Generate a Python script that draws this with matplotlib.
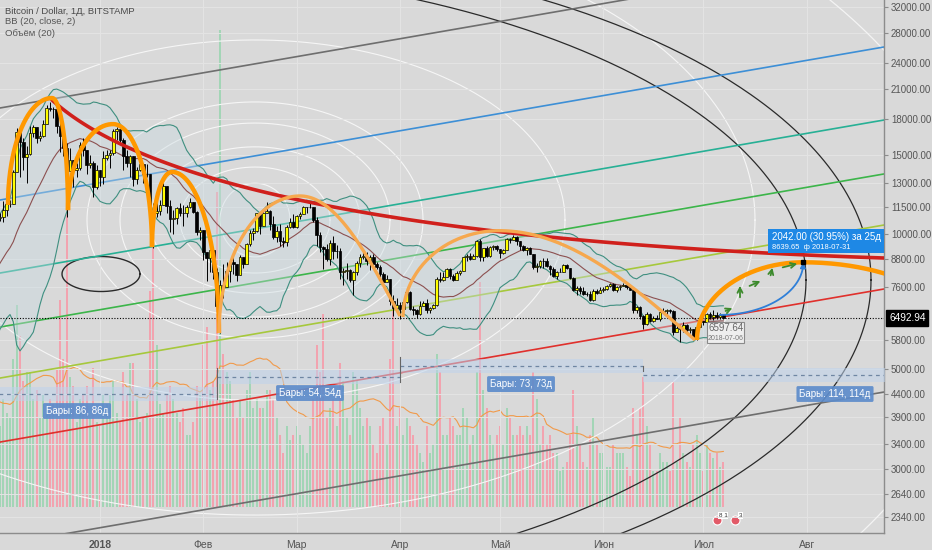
import numpy as np
import pandas as pd
import matplotlib
matplotlib.use("Agg")
import matplotlib.pyplot as plt
from matplotlib.ticker import NullLocator
from matplotlib.patches import Rectangle

plt.rcParams['font.family'] = ['Liberation Sans', 'DejaVu Sans']

BG = '#d9d9d9'
GRID = '#e4e4e4'
TXT = '#555555'

# daily candles, 2017-11-11 .. 2018-07-07 (open = previous close)
dates = pd.date_range('2017-11-11', '2018-07-07', freq='D')
first_open = 6600

closes = [
    # nov
    6350, 5900, 6550, 6600, 7300, 7850, 7700, 7800, 8050, 8250, 8100, 8250, 8050, 8250, 8750, 9300, 9750, 9900, 9850, 9950,
    # dec
    10860, 10900, 11290, 11640, 11670, 13750, 16850, 16050, 14840, 15060, 16730, 17280, 16370, 16500, 17600, 19100,
    19000, 18950, 17400, 16500, 15500, 13800, 14600, 13900, 14000, 15800, 15400, 14200, 14400, 12700, 13880,
    # jan
    13400, 14750, 15000, 15100, 16900, 17100, 16200, 14900, 14400, 14900, 13250, 13850, 14300, 13600, 13600, 11200,
    11150, 11250, 11600, 12800, 11550, 10800, 10850, 11400, 11150, 11100, 11450, 11750, 11200, 10100, 10200,
    # feb
    9100, 8850, 9200, 8200, 6900, 7700, 7600, 8250, 8650, 8550, 8100, 8900, 8550, 9500, 10050, 10150,
    11100, 10400, 11150, 11250, 10500, 9850, 10150, 9650, 9600, 10350, 10600, 10350,
    # mar
    10950, 11050, 11450, 11500, 11500, 10750, 9950, 9350, 9250, 8800, 9550, 9150, 9150, 8200, 8250, 8300,
    7900, 8200, 8600, 8900, 8900, 8700, 8900, 8550, 8450, 8150, 7800, 7950, 7100, 6850, 6950,
    # apr
    6800, 7050, 7400, 6800, 6780, 6620, 6900, 7020, 6770, 6840, 6950, 7930, 7890, 8000, 8350,
    8050, 7900, 8170, 8280, 8860, 8920, 8800, 8940, 9650, 8870, 9280, 8930, 9350, 9400, 9240,
    # may
    9070, 9220, 9750, 9700, 9850, 9650, 9370, 9200, 9320, 9020, 8430, 8480, 8700, 8680, 8480, 8340,
    8060, 8240, 8240, 8520, 8390, 7990, 7500, 7580, 7460, 7350, 7350, 7110, 7460, 7390, 7490,
    # jun
    7520, 7640, 7710, 7490, 7620, 7660, 7690, 7620, 7510, 6770, 6870, 6550, 6310, 6640, 6400,
    6490, 6460, 6700, 6740, 6760, 6720, 6050, 6160, 6150, 6250, 6090, 6140, 5890, 6200, 6390,
    # jul
    6350, 6620, 6510, 6590, 6530, 6600, 6492.94,
]

highs = [
    6800, 6450, 6700, 6750, 7350, 7950, 8000, 7900, 8100, 8300, 8400, 8300, 8300, 8350, 8800, 9600, 9750, 10000, 11400, 10700,
    10950, 11150, 11850, 11650, 11900, 13850, 17200, 17300, 16300, 15700, 17400, 17500, 17300, 16900, 17950, 19400,
    19666, 19200, 19000, 17800, 17100, 15900, 15500, 14600, 14400, 16000, 16300, 15400, 15000, 14500, 14200,
    13900, 15300, 15400, 15350, 17100, 17250, 17100, 16300, 15400, 14950, 14900, 14100, 14600, 14400, 14300, 13600,
    11700, 12000, 11900, 13000, 12800, 11900, 11300, 11500, 11700, 11600, 11600, 12000, 11750, 11250, 10350,
    10200, 9100, 9500, 9350, 8400, 7900, 8550, 8650, 8700, 9000, 8550, 8950, 8900, 9520, 10200, 10300,
    11100, 11100, 11250, 11780, 11300, 10950, 10400, 10500, 9850, 10450, 10850, 11050,
    11000, 11200, 11550, 11500, 11700, 11500, 10900, 10100, 9400, 9500, 9700, 9900, 9450, 9300, 8400, 8600,
    8350, 8250, 8700, 9000, 9100, 9100, 8950, 9000, 8650, 8500, 8200, 8100, 7950, 7300, 7200,
    7050, 7100, 7500, 7450, 6900, 6800, 7100, 7100, 7150, 6870, 6980, 8000, 8200, 8200, 8400,
    8400, 8150, 8250, 8300, 8900, 9000, 9050, 9000, 9700, 9750, 9300, 9400, 9400, 9450, 9450,
    9250, 9250, 9800, 9800, 9950, 9900, 9650, 9450, 9350, 9350, 9020, 8600, 8750, 8850, 8850, 8500,
    8450, 8250, 8400, 8550, 8550, 8400, 8000, 7650, 7650, 7600, 7400, 7450, 7550, 7550, 7600,
    7600, 7700, 7750, 7750, 7650, 7700, 7750, 7700, 7650, 7510, 6900, 6900, 6600, 6700, 6650,
    6550, 6600, 6800, 6850, 6800, 6800, 6750, 6250, 6250, 6350, 6300, 6200, 6150, 6300, 6500,
    6400, 6650, 6680, 6780, 6700, 6650, 6620,
]

lows = [
    6200, 5500, 5850, 6400, 6600, 7250, 7550, 7500, 7650, 8000, 7900, 8100, 8000, 8000, 8200, 8750, 9300, 9650, 9000, 9000,
    9400, 10700, 10600, 10950, 11450, 11650, 13700, 13400, 13900, 13000, 15000, 16400, 15900, 16100, 16400, 17600,
    18800, 18100, 16800, 15200, 14900, 10900, 13800, 12700, 13400, 13900, 14900, 13600, 14000, 12100, 12600,
    12800, 12900, 14600, 14000, 15000, 16200, 16000, 13900, 14100, 13400, 12800, 12900, 13800, 13000, 13400, 10400,
    9300, 10900, 11000, 11600, 11100, 10100, 10000, 10500, 10950, 10400, 10900, 11400, 11100, 9950, 9700,
    8750, 7850, 8200, 7950, 6600, 6000, 7200, 7600, 7800, 8150, 7850, 8100, 8400, 8550, 9400, 9700,
    10100, 10000, 10400, 11150, 10200, 9750, 9600, 9400, 9350, 9400, 10300, 10300,
    10300, 10800, 11050, 11100, 11400, 10600, 9400, 9100, 8350, 8700, 8500, 8800, 8850, 7950, 7700, 7950,
    7800, 7300, 8100, 8450, 8800, 8500, 8300, 8500, 8350, 7850, 7750, 7800, 6950, 6550, 6800,
    6450, 6800, 7000, 6750, 6600, 6500, 6600, 6900, 6650, 6650, 6800, 6900, 7800, 7850, 8000,
    7950, 7850, 7900, 8100, 8250, 8700, 8750, 8800, 8900, 8700, 8700, 8900, 8900, 9200, 9150,
    8850, 9000, 9200, 9550, 9700, 9450, 9200, 9150, 8950, 9000, 8350, 8200, 8400, 8400, 8450, 8100,
    8000, 7950, 8200, 8200, 8350, 7950, 7450, 7300, 7350, 7300, 7250, 7080, 7100, 7350, 7380,
    7400, 7500, 7600, 7450, 7400, 7500, 7650, 7550, 7500, 6650, 6650, 6450, 6150, 6250, 6350,
    6350, 6450, 6400, 6650, 6550, 6650, 5950, 6050, 5750, 6050, 6050, 6000, 5850, 5800, 6200,
    6250, 6300, 6450, 6430, 6450, 6450, 6470,
]

# volume, thousands BTC
volumes = [
    28, 35, 30, 22, 24, 22, 18, 14, 16, 17, 22, 14, 16, 13, 18, 22, 26, 30, 60, 40,
    25, 18, 24, 21, 20, 33, 45, 38, 28, 30, 30, 24, 26, 20, 25, 22, 24, 23, 31, 46, 33, 66, 29, 27, 19, 24, 25, 27, 20, 31, 19,
    18, 25, 23, 25, 28, 21, 19, 30, 25, 32, 32, 24, 19, 20, 21, 48, 58, 36, 23, 21, 25, 27, 24, 21, 19, 22, 16, 16, 19, 27, 25,
    36, 40, 26, 28, 70, 106, 34, 30, 28, 24, 20, 24, 20, 26, 30, 22, 24, 22, 22, 26, 26, 24, 20, 16, 12, 18, 15, 16,
    18, 16, 14, 12, 18, 24, 36, 30, 43, 20, 22, 24, 18, 32, 28, 20, 16, 30, 28, 22, 18, 20, 18, 14, 12, 18, 20, 14, 33, 44, 18,
    22, 16, 20, 18, 16, 14, 12, 10, 18, 12, 14, 34, 30, 16, 16, 20, 18, 16, 16, 22, 20, 14, 16, 30, 50, 26, 22, 16, 14, 16,
    18, 14, 22, 20, 16, 16, 18, 16, 18, 16, 30, 24, 14, 18, 14, 16, 12, 12, 8, 9, 10, 16, 26, 18, 14, 10, 9, 16, 20, 14, 12,
    12, 9, 9, 14, 12, 12, 12, 9, 7, 22, 16, 22, 29, 18, 14, 8, 8, 12, 10, 10, 8, 28, 10, 20, 12, 10, 9, 14, 16, 12,
    8, 14, 12, 11, 12, 9, 10,
]

assert len(closes) == len(dates), len(closes)
assert len(highs) == len(dates), len(highs)
assert len(lows) == len(dates), len(lows)
assert len(volumes) == len(dates), len(volumes)

last_price = 6492.94
price_ticks = [32000, 28000, 24000, 21000, 18000, 15000, 13000, 11500, 10000, 8800, 7600,
               5800, 5000, 4400, 3900, 3400, 3000, 2640, 2340]
month_days = [31, 62, 90, 121, 151, 182, 212, 243]
month_labels = ['2018', 'Фев', 'Мар', 'Апр', 'Май', 'Июн', 'Июл', 'Авг']

# drawings (x = days since 2017-12-01, y = price)
channel_x = [1.0, 266.2]
channel_lines = [
    ('#6e6e6e', [19060, 41770]),
    ('#3d8fd6', [11890, 26060]),
    ('#27b095', [8177, 17920]),
    ('#3cb54a', [6199, 13590]),
    ('#a6c83c', [4772, 10460]),
    ('#e0302c', [3437, 7534]),
    ('#6e6e6e', [2027, 4442]),
]
# quadratic curve: start, control, end
red_curve = [(16.6, 19860), (61.0, 9935), (266.2, 8831)]
# left base, peak, right base, colour, width, shape of right half
domes = [
    ((3.4, 11590), (16.6, 20060), (21.4, 11290), '#ff9800', 3.2, 'ellipse'),
    ((21.4, 11290), (34.9, 17550), (46.6, 9340), '#ff9800', 3.2, 'ellipse'),
    ((46.6, 9340), (52.6, 13730), (66.7, 6012), '#ff9800', 3.2, 'ellipse'),
    ((66.7, 6012), (91.0, 12140), (121.0, 6558), '#f6a84e', 2.4, 'cosine'),
    ((121.9, 6525), (150.7, 10160), (209.5, 5800), '#f6a84e', 2.4, 'cosine'),
    ((210.1, 5800), (242.0, 8639.65), (289.0, 5800), '#ff9800', 3.2, 'ellipse'),
]
# white circles: centre, semi-axes in days and in decades of price
ring_center = (77.5, 10730)
ring_days = [10.5, 22.5, 31.5, 40.5, 50.4, 93.0, 150.0]
ring_decades = [0.082, 0.118, 0.163, 0.216, 0.263, 0.401, 0.657]
big_ellipses = [
    ((32.8, 7889), 210.0, 0.697, '#2a2a2a'),
    ((52.3, 7889), 210.0, 0.737, '#2a2a2a'),
    ((52.3, 7889), 243.9, 1.065, '#f4f4f4'),
]
small_ellipse = ((31.3, 8136), 11.7, 0.039)
range_edges = [-20, 66, 121, 194, 308]
range_levels = [4397, 4798, 5076, 4847]
range_labels = ['Бары: 86, 86д', 'Бары: 54, 54д', 'Бары: 73, 73д', 'Бары: 114, 114д']
range_label_pos = [(24.1, 4030), (94.0, 4419), (157.3, 4627), (251.5, 4397)]
proj_start = (217.0, 6597.64)
proj_end = (242.0, 8639.65)
green_arrows = [((217.9, 6694), (221.5, 6867)), ((223.0, 7119), (223.0, 7768)),
                ((225.1, 7610), (229.9, 7889)), ((232.0, 7970), (232.9, 8519)),
                ((235.0, 8389), (241.0, 8607))]


def ellipse_xy(center, a, b, n=720):
    t = np.linspace(0, 2 * np.pi, n)
    return center[0] + a * np.cos(t), 10 ** (np.log10(center[1]) + b * np.sin(t))


def dome_xy(left, peak, right, shape, n=80):
    th = np.linspace(0, np.pi / 2, n)
    ly, py, ry = np.log10(left[1]), np.log10(peak[1]), np.log10(right[1])
    x1 = peak[0] - (peak[0] - left[0]) * np.cos(th)
    y1 = ly + (py - ly) * np.sin(th)
    if shape == 'ellipse':
        x2 = peak[0] + (right[0] - peak[0]) * np.sin(th)
        y2 = ry + (py - ry) * np.cos(th)
    else:
        x2 = peak[0] + (right[0] - peak[0]) * th / (np.pi / 2)
        y2 = ry + (py - ry) * np.cos(th)
    return np.r_[x1, x2], 10 ** np.r_[y1, y2]


def bezier_xy(p0, p1, p2, n=120):
    t = np.linspace(0, 1, n)
    x = (1 - t) ** 2 * p0[0] + 2 * t * (1 - t) * p1[0] + t ** 2 * p2[0]
    ly = (1 - t) ** 2 * np.log10(p0[1]) + 2 * t * (1 - t) * np.log10(p1[1]) + t ** 2 * np.log10(p2[1])
    return x, 10 ** ly


days = np.asarray((dates - pd.Timestamp('2017-12-01')).days, dtype=float)
closes = np.array(closes, dtype=float)
highs = np.array(highs, dtype=float)
lows = np.array(lows, dtype=float)
volumes = np.array(volumes, dtype=float)
opens = np.r_[first_open, closes[:-1]]
up = closes >= opens

fig = plt.figure(figsize=(9.32, 5.5), dpi=100, facecolor=BG)
ax = fig.add_axes([0, 17 / 550, 884 / 932, 533 / 550])
axv = ax.twinx()
ax.set_zorder(axv.get_zorder() + 1)
ax.patch.set_visible(False)
axv.patch.set_facecolor(BG)

# volume pane
vol_colors = np.where(up, '#a3d5b6', '#f2a3af')
axv.bar(days, volumes, width=0.62, color=vol_colors, zorder=2)
vol_ma = pd.Series(volumes).rolling(20).mean()
axv.plot(days, vol_ma, color='#f19a4a', lw=0.8, zorder=3)
axv.set_ylim(-5.78, 112.7)
axv.set_yticks([])
axv.tick_params(right=False, labelright=False)
for s in axv.spines.values():
    s.set_visible(False)

# price pane
ax.set_yscale('log')
ax.set_xlim(1.0, 266.2)
ax.set_ylim(2156, 33160)
ax.grid(True, color=GRID, lw=0.7, zorder=0)

for a, b in zip(ring_days, ring_decades):
    ex, ey = ellipse_xy(ring_center, a, b)
    ax.plot(ex, ey, color='#f6f6f6', lw=0.8, zorder=1)
for c, a, b, col in big_ellipses:
    ex, ey = ellipse_xy(c, a, b)
    ax.plot(ex, ey, color=col, lw=0.9, zorder=2)
ex, ey = ellipse_xy(small_ellipse[0], small_ellipse[1], small_ellipse[2])
ax.plot(ex, ey, color='#2a2a2a', lw=1.0, zorder=2)

for col, ys in channel_lines:
    ax.plot(channel_x, ys, color=col, lw=1.2, zorder=2)

# bollinger bands
s = pd.Series(closes)
basis = s.rolling(20).mean()
dev = s.rolling(20).std(ddof=0)
upper, lower = basis + 2 * dev, basis - 2 * dev
ax.fill_between(days, lower, upper, color='#c9dae1', alpha=0.4, lw=0, zorder=2)
ax.plot(days, upper, color='#3f8f80', lw=0.8, zorder=3)
ax.plot(days, lower, color='#3f8f80', lw=0.8, zorder=3)
ax.plot(days, basis, color='#8c5050', lw=0.8, zorder=3)

# candles
ax.vlines(days, lows, highs, color='black', lw=0.7, zorder=4)
body_lo = np.minimum(opens, closes)
body_h = np.maximum(np.abs(closes - opens), 1.0)
ax.bar(days, body_h, bottom=body_lo, width=0.78, color=np.where(up, '#ffff00', '#000000'),
       edgecolor='black', lw=0.5, zorder=5)

# drawings
rx, ry = bezier_xy(*red_curve)
ax.plot(rx, ry, color='#d0201c', lw=2.6, zorder=6, solid_capstyle='round')
for left, peak, right, col, lw, shape in domes:
    dx, dy = dome_xy(left, peak, right, shape)
    ax.plot(dx, dy, color=col, lw=lw, zorder=7, solid_capstyle='butt')

ax.axhline(last_price, color='black', lw=0.8, ls=(0, (1, 1.5)), zorder=6)

# date ranges
for i, lev in enumerate(range_levels):
    x0, x1 = range_edges[i], range_edges[i + 1]
    lo, hi = lev / 10 ** 0.016, lev * 10 ** 0.016
    ax.fill_between([x0, x1], [lo, lo], [hi, hi], color='#bed3ec', alpha=0.55, lw=0, zorder=3)
    ax.plot([x0, x1], [lev, lev], color='#6f86a3', lw=0.9, ls=(0, (3, 3)), zorder=6)
    lx, ly = range_label_pos[i]
    ax.text(lx, ly, range_labels[i], ha='center', va='center', color='white', fontsize=7, zorder=9,
            bbox=dict(boxstyle='round,pad=0.3,rounding_size=0.15', fc='#5d8ccb', ec='none', alpha=0.92))
for i, x in enumerate(range_edges[1:-1]):
    ax.plot([x, x], [range_levels[i] / 10 ** 0.012, range_levels[i + 1] * 10 ** 0.02],
            color='#666666', lw=0.8, zorder=6)

# projection
th = np.linspace(0, np.pi / 2, 60)
l0, l1 = np.log10(proj_start[1]), np.log10(proj_end[1])
px = proj_start[0] + (proj_end[0] - proj_start[0]) * np.sin(th)
py = 10 ** (l0 + (l1 - l0) * (1 - np.cos(th)))
ax.plot(px, py, color='#2f7fd8', lw=1.3, zorder=7)
ax.annotate('', xy=proj_end, xytext=(px[-4], py[-4]),
            arrowprops=dict(arrowstyle='-|>', color='#2f7fd8', lw=1.2, mutation_scale=8), zorder=7)
ax.plot([proj_end[0]], [proj_end[1]], marker='s', ms=3, color='black', zorder=8)
for a0, a1 in green_arrows:
    ax.annotate('', xy=a1, xytext=a0,
                arrowprops=dict(arrowstyle='->', color='#3c8a2c', lw=1.3, mutation_scale=9), zorder=8)

ax.add_patch(Rectangle((231.4, 9060), 40, 10247 - 9060, fc='#1e88e5', ec='none', zorder=9))
ax.text(232.6, 9835, '2042.00 (30.95%) за 25д', color='white', fontsize=7.0, va='center', ha='left', zorder=10)
ax.text(232.6, 9300, '8639.65  ф 2018-07-31', color='white', fontsize=5.4, va='center', ha='left', zorder=10)

ax.add_patch(Rectangle((213.1, 5711), 11.1, 6361 - 5711, fc='#eeeeee', ec='#8a8a8a', lw=0.8, zorder=9))
ax.text(218.7, 6180, '6597.64', color='#666666', fontsize=7, ha='center', va='center', zorder=10)
ax.text(218.7, 5860, '2018-07-06', color='#777777', fontsize=5, ha='center', va='center', zorder=10)

# event flags
axv.scatter([216.1, 221.5], [-2.9, -2.9], s=42, c='#e25a68', edgecolors='white', linewidths=0.8,
            zorder=5, clip_on=False)
axv.text(217.9, -1.9, '8 1', fontsize=4.5, color='#333333', ha='center', va='center', zorder=6,
         bbox=dict(boxstyle='square,pad=0.1', fc='white', ec='none'))
axv.text(223.1, -1.9, '3', fontsize=4.5, color='#333333', ha='center', va='center', zorder=6,
         bbox=dict(boxstyle='square,pad=0.1', fc='white', ec='none'))

# axes styling
ax.yaxis.tick_right()
ax.set_yticks(price_ticks)
ax.set_yticklabels([f'{v:.2f}' for v in price_ticks])
ax.yaxis.set_minor_locator(NullLocator())
ax.tick_params(axis='y', labelsize=7, labelcolor=TXT, length=3, color='#8c8c8c', pad=2)
ax.set_xticks(month_days)
ax.set_xticklabels(month_labels)
ax.tick_params(axis='x', labelsize=7.5, labelcolor=TXT, length=0, pad=5)
ax.get_xticklabels()[0].set_fontweight('bold')
for name, sp in ax.spines.items():
    sp.set_visible(name in ('right', 'bottom'))
    sp.set_color('#8c8c8c')
    sp.set_linewidth(1.0)

ax.annotate(f'{last_price:.2f}', xy=(1, last_price), xycoords=('axes fraction', 'data'),
            xytext=(5, 0), textcoords='offset pixels', ha='left', va='center', fontsize=7.3,
            color='white', annotation_clip=False, zorder=12,
            bbox=dict(boxstyle='square,pad=0.25', fc='black', ec='black'))

fig.text(5 / 932, 1 - 11 / 550, 'Bitcoin / Dollar, 1Д, BITSTAMP', fontsize=6.8, color='#4a4a4a',
         va='center')
fig.text(5 / 932, 1 - 22 / 550, 'BB (20, close, 2)', fontsize=6.8, color=TXT, va='center')
fig.text(5 / 932, 1 - 33 / 550, 'Объём (20)', fontsize=6.8, color=TXT, va='center')

fig.savefig('out.png', dpi=100, facecolor=BG)
